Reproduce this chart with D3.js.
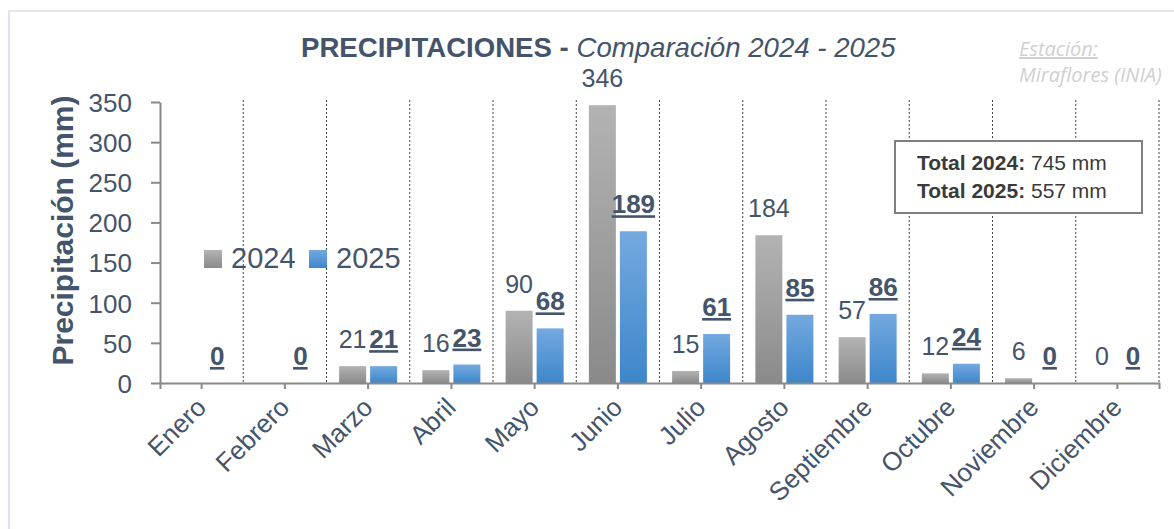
<!DOCTYPE html>
<html>
<head>
<meta charset="utf-8">
<script src="https://cdn.jsdelivr.net/npm/d3@7"></script>
<style>
    body { margin: 0; background: #fff; }
    svg text { font-family: "Liberation Sans", Arial, sans-serif; }
</style>
</head>
<body>
<div id="chart"></div>
<script>
// datos
const months = ['Enero', 'Febrero', 'Marzo', 'Abril', 'Mayo', 'Junio', 'Julio',
    'Agosto', 'Septiembre', 'Octubre', 'Noviembre', 'Diciembre'];
const values2024 = [null, null, 21, 16, 90, 346, 15, 184, 57, 12, 6, 0];
const values2025 = [0, 0, 21, 23, 68, 189, 61, 85, 86, 24, 0, 0];
const seriesNames = ['2024', '2025'];
const yTicks = [0, 50, 100, 150, 200, 250, 300, 350];
const totalLabels = ['Total 2024:', 'Total 2025:'];
const totalValues = ['745 mm', '557 mm'];

const width = 1174, height = 529;
const margin = { top: 102, right: 15, bottom: 146, left: 160 };
const textColor = '#44546a';

const svg = d3.select('#chart').append('svg')
    .attr('width', width)
    .attr('height', height);

// marco exterior
svg.append('rect')
    .attr('x', 9).attr('y', 11)
    .attr('width', 1200).attr('height', 600)
    .attr('fill', 'none')
    .attr('stroke', '#e1e5eb')
    .attr('stroke-width', 2);

const defs = svg.append('defs');
const gradients = [
    { id: 'grad2024', top: '#b3b3b3', bottom: '#8a8a8a' },
    { id: 'grad2025', top: '#74a9df', bottom: '#3d86cb' }
];
gradients.forEach(gr => {
    const lg = defs.append('linearGradient')
        .attr('id', gr.id)
        .attr('x1', 0).attr('y1', 0).attr('x2', 0).attr('y2', 1);
    lg.append('stop').attr('offset', '0%').attr('stop-color', gr.top);
    lg.append('stop').attr('offset', '100%').attr('stop-color', gr.bottom);
});

const x0 = d3.scaleBand()
    .domain(months)
    .range([margin.left, width - margin.right]);

const x1 = d3.scaleBand()
    .domain(seriesNames)
    .range([0, x0.bandwidth()])
    .paddingInner(0.13)
    .paddingOuter(0.407);

const y = d3.scaleLinear()
    .domain([0, 350])
    .range([height - margin.bottom, margin.top]);

const rows = months.map((m, i) => ({
    month: m,
    vals: [
        { key: '2024', value: values2024[i] },
        { key: '2025', value: values2025[i] }
    ]
}));

// lineas verticales punteadas entre meses
svg.append('g')
    .selectAll('line')
    .data(months)
    .enter()
    .append('line')
    .attr('x1', d => x0(d) + x0.bandwidth())
    .attr('x2', d => x0(d) + x0.bandwidth())
    .attr('y1', y(350) - 2)
    .attr('y2', y(0))
    .attr('stroke', '#444')
    .attr('stroke-width', 1)
    .attr('stroke-dasharray', '2,2');

// barras
const groups = svg.append('g')
    .selectAll('g')
    .data(rows)
    .enter()
    .append('g')
    .attr('transform', d => `translate(${x0(d.month)},0)`);

groups.selectAll('rect')
    .data(d => d.vals.filter(v => v.value !== null))
    .enter()
    .append('rect')
    .attr('x', d => x1(d.key))
    .attr('y', d => y(d.value))
    .attr('width', x1.bandwidth())
    .attr('height', d => y(0) - y(d.value))
    .attr('fill', d => `url(#grad${d.key})`);

// etiquetas de datos
groups.selectAll('text')
    .data(d => d.vals.filter(v => v.value !== null))
    .enter()
    .append('text')
    .attr('x', d => x1(d.key) + x1.bandwidth() / 2)
    .attr('y', d => y(d.value) - 18)
    .attr('text-anchor', 'middle')
    .style('font-size', d => d.key === '2025' ? '26px' : '25px')
    .style('font-weight', d => d.key === '2025' ? 'bold' : 'normal')
    .style('text-decoration', d => d.key === '2025' ? 'underline' : 'none')
    .style('fill', textColor)
    .text(d => d.value);

// eje y
const yAxis = svg.append('g')
    .attr('transform', `translate(${margin.left},0)`)
    .call(d3.axisLeft(y).tickValues(yTicks).tickSize(9).tickSizeOuter(0).tickPadding(19));
yAxis.selectAll('path, line').attr('stroke', '#898989').attr('stroke-width', 2);
yAxis.selectAll('text')
    .style('font-size', '26px')
    .style('fill', textColor)
    .attr('dy', '0.36em');

// eje x
const xAxis = svg.append('g')
    .attr('transform', `translate(0,${y(0)})`)
    .call(d3.axisBottom(x0).tickSize(6).tickSizeOuter(6).tickFormat(''));
xAxis.select('.domain').attr('stroke', '#898989').attr('stroke-width', 2);
xAxis.selectAll('line').attr('stroke', '#898989').attr('stroke-width', 2);

svg.append('g')
    .selectAll('text')
    .data(months)
    .enter()
    .append('text')
    .attr('transform', d => `translate(${x0(d) + x0.bandwidth() / 2 + 6},${y(0) + 26}) rotate(-45)`)
    .attr('text-anchor', 'end')
    .style('font-size', '26px')
    .style('fill', textColor)
    .text(d => d);

// titulo del eje y
svg.append('text')
    .attr('transform', `translate(73,${(y(0) + y(350)) / 2 - 12}) rotate(-90)`)
    .attr('text-anchor', 'middle')
    .style('font-size', '30px')
    .style('font-weight', 'bold')
    .style('fill', textColor)
    .text('Precipitación (mm)');

// titulo
const title = svg.append('text')
    .attr('x', 301)
    .attr('y', 57)
    .style('font-size', '27.6px')
    .style('fill', textColor);
title.append('tspan').style('font-weight', 'bold').text('PRECIPITACIONES - ');
title.append('tspan').style('font-style', 'italic').text('Comparación 2024 - 2025');

// estacion
svg.append('text')
    .attr('x', 1019).attr('y', 56)
    .style('font-family', '"Open Sans", sans-serif')
    .style('font-size', '20px')
    .style('font-style', 'italic')
    .style('text-decoration', 'underline')
    .style('fill', '#d0d0d0')
    .text('Estación:');
svg.append('text')
    .attr('x', 1019).attr('y', 82)
    .style('font-family', '"Open Sans", sans-serif')
    .style('font-size', '20px')
    .style('font-style', 'italic')
    .style('fill', '#d0d0d0')
    .text('Miraflores (INIA)');

// leyenda
const legend = svg.append('g')
    .selectAll('g')
    .data(seriesNames)
    .enter()
    .append('g')
    .attr('transform', (d, i) => `translate(${204 + i * 105},250)`);
legend.append('rect')
    .attr('width', 18).attr('height', 18)
    .attr('fill', d => `url(#grad${d})`);
legend.append('text')
    .attr('x', 27).attr('y', 18)
    .style('font-size', '29px')
    .style('fill', textColor)
    .text(d => d);

// cuadro de totales
svg.append('rect')
    .attr('x', 895).attr('y', 141)
    .attr('width', 247).attr('height', 72)
    .attr('fill', '#fff')
    .attr('stroke', '#7f7f7f')
    .attr('stroke-width', 2);
totalLabels.forEach((lab, i) => {
    const t = svg.append('text')
        .attr('x', 917)
        .attr('y', 170 + i * 28)
        .style('font-size', '21px')
        .style('fill', '#3a3a3a');
    t.append('tspan').style('font-weight', 'bold').text(lab + ' ');
    t.append('tspan').text(totalValues[i]);
});
</script>
</body>
</html>
